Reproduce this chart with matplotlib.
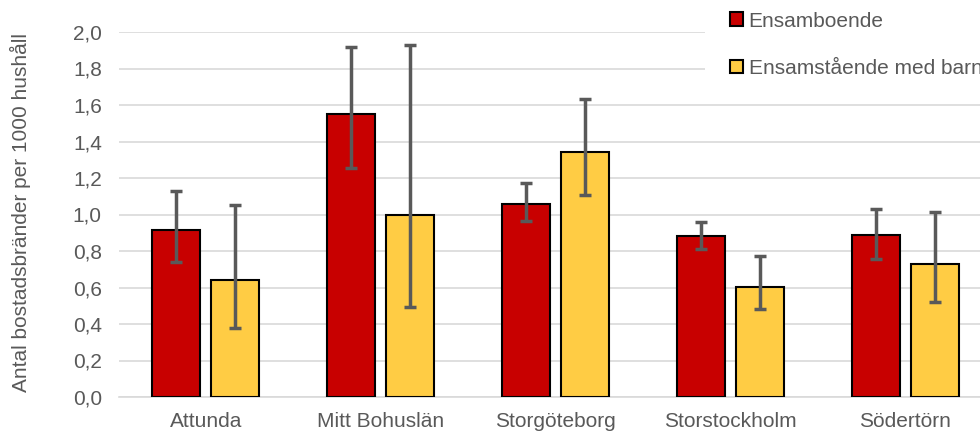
import numpy as np
import matplotlib
matplotlib.use("Agg")
from matplotlib import pyplot as plt

categories = ["Attunda", "Mitt Bohuslän", "Storgöteborg", "Storstockholm", "Södertörn"]

ensamboende = [0.915, 1.55, 1.06, 0.88, 0.885]
ensamboende_low = [0.74, 1.255, 0.965, 0.81, 0.755]
ensamboende_high = [1.13, 1.92, 1.17, 0.96, 1.03]

ensamstaende = [0.64, 1.0, 1.345, 0.605, 0.73]
ensamstaende_low = [0.38, 0.495, 1.105, 0.48, 0.52]
ensamstaende_high = [1.05, 1.93, 1.635, 0.77, 1.015]

yticks = [0.0, 0.2, 0.4, 0.6, 0.8, 1.0, 1.2, 1.4, 1.6, 1.8, 2.0]

plt.rcParams["font.family"] = ["Liberation Sans", "DejaVu Sans"]
grey = "#595959"

fig = plt.figure(figsize=(9.8, 4.34), dpi=100)
ax = fig.add_axes([118.5 / 980, 37 / 434, 874 / 980, 365 / 434])

x = np.arange(len(categories))
w = 0.274
off = 0.169

v1 = np.array(ensamboende)
v2 = np.array(ensamstaende)
err1 = [v1 - np.array(ensamboende_low), np.array(ensamboende_high) - v1]
err2 = [v2 - np.array(ensamstaende_low), np.array(ensamstaende_high) - v2]

ax.bar(x - off, v1, w, color="#C80000", edgecolor="black", linewidth=1.5,
       label="Ensamboende", zorder=3)
ax.bar(x + off, v2, w, color="#FFCC44", edgecolor="black", linewidth=1.5,
       label="Ensamstående med barn", zorder=3)
ax.errorbar(x - off, v1, yerr=err1, fmt="none", ecolor=grey, elinewidth=2.5,
            capsize=4.5, capthick=2.5, zorder=4)
ax.errorbar(x + off, v2, yerr=err2, fmt="none", ecolor=grey, elinewidth=2.5,
            capsize=4.5, capthick=2.5, zorder=4)

ax.set_xlim(-0.5, len(categories) - 0.5)
ax.set_ylim(0, 2.0)
ax.set_yticks(yticks)
ax.set_yticklabels([f"{t:.1f}".replace(".", ",") for t in yticks])
ax.set_xticks(x)
ax.set_xticklabels(categories)
ax.tick_params(axis="both", length=0, labelsize=15, colors=grey)
ax.tick_params(axis="y", pad=12)
ax.tick_params(axis="x", pad=11)
ax.yaxis.grid(True, color="#D9D9D9", linewidth=1.2, zorder=0)
ax.set_axisbelow(True)
for s in ["top", "right", "left"]:
    ax.spines[s].set_visible(False)
ax.spines["bottom"].set_color("#D9D9D9")
ax.spines["bottom"].set_linewidth(1.2)

fig.text(20 / 980, 222 / 434, "Antal bostadsbränder per 1000 hushåll", rotation=90,
         ha="center", va="center", fontsize=15, color=grey)

leg = fig.legend(loc="upper left", bbox_to_anchor=(695 / 980, 1.055), fontsize=15,
                 frameon=True, facecolor="white", edgecolor="none", framealpha=1,
                 fancybox=False, handlelength=0.62, handleheight=0.62,
                 handletextpad=0.25, labelspacing=1.35, borderpad=1.2)
for t in leg.get_texts():
    t.set_color(grey)

fig.savefig("out.png", dpi=100)
